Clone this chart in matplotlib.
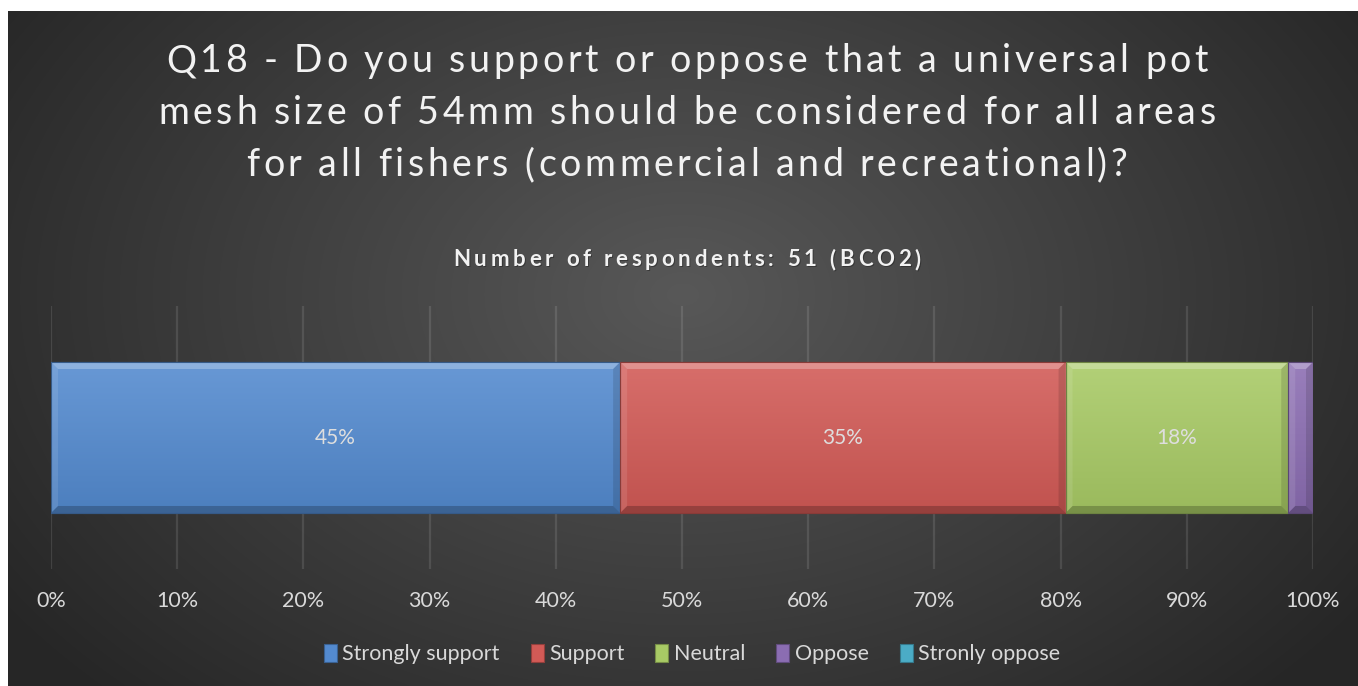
import numpy as np
import matplotlib
matplotlib.use("Agg")
import matplotlib.pyplot as plt
from matplotlib.patches import Rectangle, Polygon
from matplotlib.font_manager import FontProperties, findfont, get_font
import matplotlib.colors as mcolors

# ---------------- data ----------------
title_lines = [
    "Q18 - Do you support or oppose that a universal pot",
    "mesh size of 54mm should be considered for all areas",
    "for all fishers (commercial and recreational)?",
]
subtitle = "Number of respondents: 51 (BCO2)"
categories = ["Strongly support", "Support", "Neutral", "Oppose", "Stronly oppose"]
counts = [23, 18, 9, 1, 0]
total_respondents = 51
colors = ["#538ACF", "#D25A56", "#A8CA65", "#8B6DB2", "#4BACC6"]
xtick_values = [0.0, 0.1, 0.2, 0.3, 0.4, 0.5, 0.6, 0.7, 0.8, 0.9, 1.0]
xtick_labels = ["0%", "10%", "20%", "30%", "40%", "50%", "60%", "70%", "80%", "90%", "100%"]

# ---------------- figure ----------------
W, H, DPI = 1358, 686, 100
fig = plt.figure(figsize=(W / DPI, H / DPI), dpi=DPI, facecolor="white")

# dark radial-gradient background
bg = fig.add_axes([8 / W, 0, (W - 8) / W, (H - 11) / H])
bg.set_axis_off()
ny, nx = 400, 800
yy, xx = np.mgrid[0:1:ny * 1j, 0:1:nx * 1j]
r = np.sqrt(((xx - 0.5) / 0.58) ** 2 + ((yy - 0.42) / 0.8) ** 2)
v = np.clip(0.345 - 0.185 * r, 0.15, 1)
bg.imshow(np.dstack([v, v, v]), extent=(0, 1, 0, 1), aspect="auto",
          origin="upper", interpolation="bilinear")
bg.set_xlim(0, 1)
bg.set_ylim(0, 1)

FONT = "Lato"


def advances(s, prop):
    font = get_font(findfont(prop))
    font.set_size(prop.get_size_in_points(), DPI)
    return [font.load_char(ord(ch)).linearHoriAdvance / 65536 for ch in s]


def spacing_for_width(s, prop, target):
    adv = advances(s, prop)
    return (target - sum(adv)) / (len(s) - 1)


def spaced_text(s, cx, baseline, prop, spacing, color, **kw):
    adv = advances(s, prop)
    tot = sum(adv) + spacing * (len(s) - 1)
    x = cx - tot / 2
    for ch, a in zip(s, adv):
        if ch != " ":
            fig.text(x / W, 1 - baseline / H, ch, fontproperties=prop, color=color,
                     ha="left", va="baseline", **kw)
        x += a + spacing


# title
tprop = FontProperties(family=FONT, size=27)
tsp = spacing_for_width(title_lines[1], tprop, 1057)
for line, base in zip(title_lines, [72, 124, 176]):
    spaced_text(line, 687, base, tprop, tsp, "#f2f2f2")

# subtitle
sprop = FontProperties(family=FONT, size=16, weight="bold")
ssp = spacing_for_width(subtitle, sprop, 468)
spaced_text(subtitle, 688, 267, sprop, ssp, "#1a1a1a", alpha=0.45)
spaced_text(subtitle, 687, 266, sprop, ssp, "#f2f2f2")

# ---------------- bar axes ----------------
ax = fig.add_axes([51 / W, 1 - 569 / H, (1313 - 51) / W, (569 - 306) / H])
ax.patch.set_alpha(0)
for sp in ax.spines.values():
    sp.set_visible(False)
ax.set_yticks([])
ax.set_xticks(xtick_values)
ax.set_xticklabels(xtick_labels, fontfamily=FONT, fontsize=15.5, color="#d9d9d9")
ax.tick_params(axis="x", length=0, pad=16)
ax.grid(axis="x", color="white", alpha=0.11, lw=1.6)
ax.set_axisbelow(True)

fracs = np.array(counts) / total_respondents
lefts = np.concatenate([[0], np.cumsum(fracs)[:-1]])
bh = 0.574
bx = 7 / 1262
by = 7 / 263


def shade(c, f):
    rgb = np.array(mcolors.to_rgb(c))
    if f >= 0:
        return tuple(rgb + (1 - rgb) * f)
    return tuple(rgb * (1 + f))


for frac, left, c in zip(fracs, lefts, colors):
    if frac <= 0:
        continue
    t, b = bh / 2, -bh / 2
    rect = ax.barh(0, frac, left=left, height=bh, color=c,
                   edgecolor=shade(c, -0.35), lw=0.8, zorder=2)[0]
    top_c = np.array(shade(c, 0.12))
    bot_c = np.array(shade(c, -0.08))
    g = np.linspace(0, 1, 64)[:, None]
    grad = top_c[None, :] * (1 - g) + bot_c[None, :] * g
    im = ax.imshow(grad[:, None, :], extent=(left, left + frac, b, t), aspect="auto",
                   origin="upper", zorder=2.1, interpolation="bilinear")
    im.set_clip_path(rect)
    ax.add_patch(Polygon([(left, t), (left + frac, t), (left + frac - bx, t - by), (left + bx, t - by)],
                         closed=True, facecolor="white", alpha=0.25, lw=0, zorder=2.2))
    ax.add_patch(Polygon([(left, b), (left + frac, b), (left + frac - bx, b + by), (left + bx, b + by)],
                         closed=True, facecolor="black", alpha=0.22, lw=0, zorder=2.2))
    ax.add_patch(Polygon([(left, b), (left, t), (left + bx, t - by), (left + bx, b + by)],
                         closed=True, facecolor="white", alpha=0.10, lw=0, zorder=2.2))
    ax.add_patch(Polygon([(left + frac, b), (left + frac, t), (left + frac - bx, t - by), (left + frac - bx, b + by)],
                         closed=True, facecolor="black", alpha=0.12, lw=0, zorder=2.2))
    ax.add_patch(Rectangle((left, b), frac, bh, facecolor="none",
                           edgecolor=shade(c, -0.35), lw=0.8, zorder=2.3))
    if frac >= 0.05:
        ax.text(left + frac / 2, 0, f"{round(frac * 100)}%", ha="center", va="center",
                fontfamily=FONT, fontsize=15, color="#dedede", zorder=3)

ax.set_xlim(0, 1)
ax.set_ylim(-0.5, 0.5)

# legend
handles = [Rectangle((0, 0), 1, 1, facecolor=c, edgecolor=shade(c, -0.3), lw=0.8) for c in colors]
leg = fig.legend(handles, categories, loc="center", bbox_to_anchor=(692 / W, 1 - 654 / H),
                 ncol=5, frameon=False, handlelength=0.6, handleheight=0.95,
                 handletextpad=0.25, columnspacing=1.45,
                 prop=FontProperties(family=FONT, size=15.5))
for txt in leg.get_texts():
    txt.set_color("#d9d9d9")

fig.savefig("out.png", dpi=DPI, facecolor="white")
